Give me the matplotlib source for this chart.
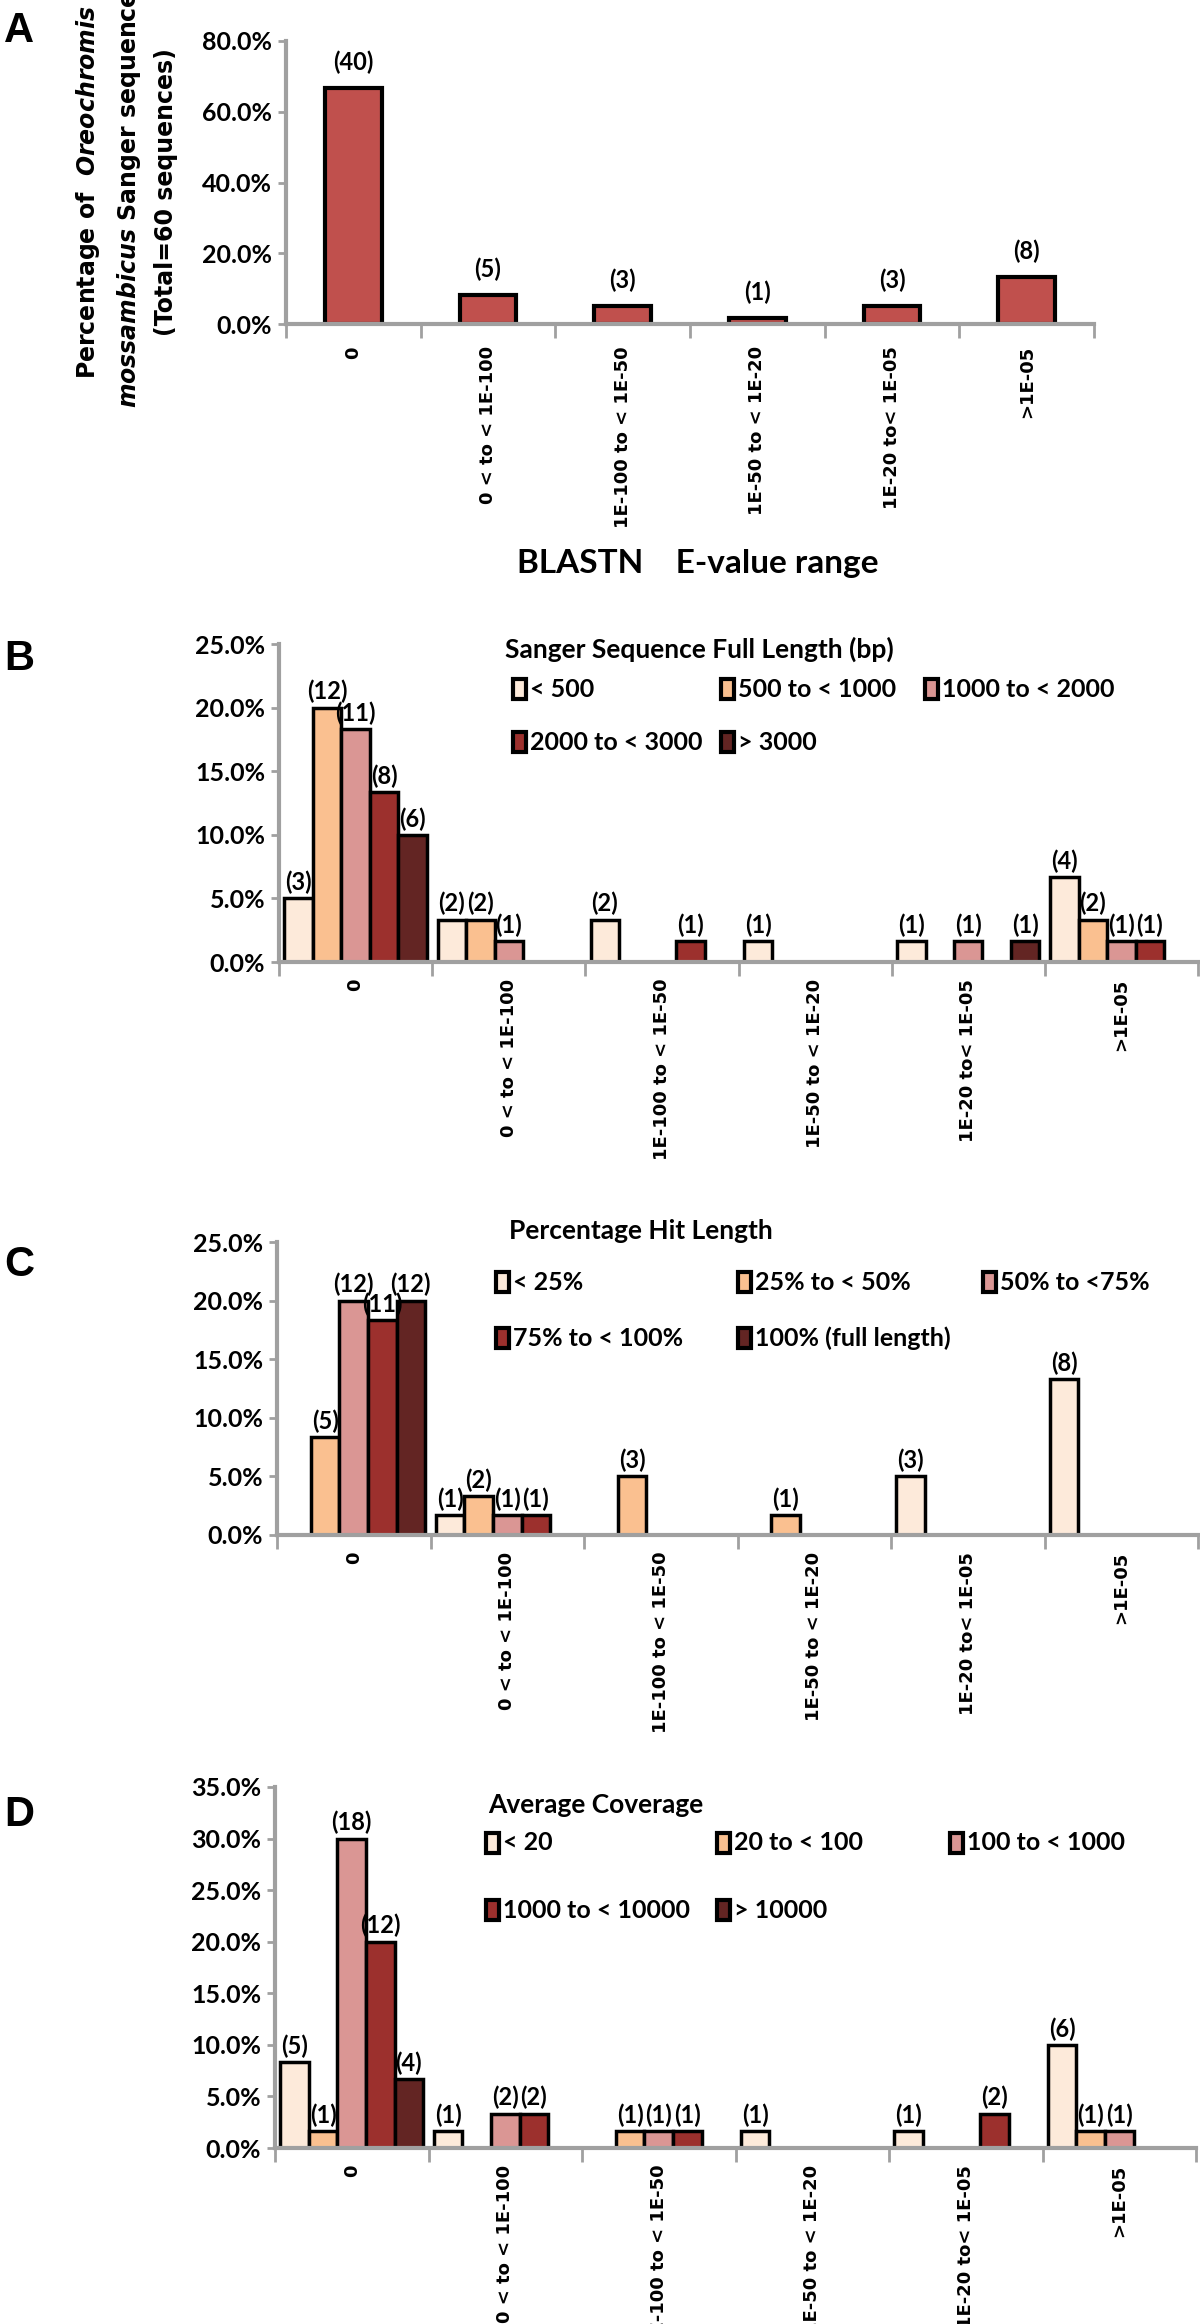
import matplotlib
matplotlib.use("Agg")
import matplotlib.pyplot as plt
import numpy as np
from matplotlib.patches import Rectangle
from matplotlib.ticker import PercentFormatter

plt.rcParams['mathtext.fontset'] = 'custom'
plt.rcParams['mathtext.it'] = 'DejaVu Sans:italic:bold'
plt.rcParams['mathtext.rm'] = 'DejaVu Sans:bold'

NARROW = ['Lato', 'DejaVu Sans']
GREY = '#A0A0A0'
W, H = 1200, 2324

total = 60
categories = ['0', '0 < to < 1E-100', '1E-100 to < 1E-50', '1E-50 to < 1E-20',
              '1E-20 to< 1E-05', '>1E-05']

# A: all sequences per e-value range
evalue_counts = [40, 5, 3, 1, 3, 8]

# B: sanger sequence full length
length_labels = ['< 500', '500 to < 1000', '1000 to < 2000', '2000 to < 3000', '> 3000']
length_counts = [
    [3, 2, 2, 1, 1, 4],
    [12, 2, 0, 0, 0, 2],
    [11, 1, 0, 0, 1, 1],
    [8, 0, 1, 0, 0, 1],
    [6, 0, 0, 0, 1, 0],
]

# C: percentage hit length
hit_labels = ['< 25%', '25% to < 50%', '50% to <75%', '75% to < 100%', '100% (full length)']
hit_counts = [
    [0, 1, 0, 0, 3, 8],
    [5, 2, 3, 1, 0, 0],
    [12, 1, 0, 0, 0, 0],
    [11, 1, 0, 0, 0, 0],
    [12, 0, 0, 0, 0, 0],
]

# D: average coverage
cov_labels = ['< 20', '20 to < 100', '100 to < 1000', '1000 to < 10000', '> 10000']
cov_counts = [
    [5, 1, 0, 1, 1, 6],
    [1, 0, 1, 0, 0, 1],
    [18, 2, 1, 0, 0, 1],
    [12, 2, 1, 0, 2, 0],
    [4, 0, 0, 0, 0, 0],
]

colors = ['#FDEADA', '#FAC090', '#DA9694', '#9C302D', '#632523']


def px_axes(fig, left, top, right, bottom):
    return fig.add_axes([left / W, 1 - bottom / H, (right - left) / W, (bottom - top) / H])


def style(ax, ymax, step, pad=12):
    ax.set_xlim(-0.5, 5.5)
    ax.set_ylim(0, ymax)
    ax.set_yticks(np.arange(0, ymax + 1e-9, step))
    ax.yaxis.set_major_formatter(PercentFormatter(1.0, decimals=1))
    for s in ['top', 'right']:
        ax.spines[s].set_visible(False)
    for s in ['left', 'bottom']:
        ax.spines[s].set_color(GREY)
        ax.spines[s].set_linewidth(3)
    ax.set_xticks(range(len(categories)))
    ax.set_xticklabels(categories, rotation=90, fontfamily='DejaVu Sans',
                       fontweight='bold', fontsize=13)
    ax.set_xticks(np.arange(-0.5, 6, 1), minor=True)
    ax.tick_params(axis='x', which='major', length=0, pad=pad)
    ax.tick_params(axis='x', which='minor', length=10, width=2, color=GREY)
    ax.tick_params(axis='y', length=6, width=2, color=GREY, pad=4)
    for lab in ax.get_yticklabels():
        lab.set_fontfamily(NARROW)
        lab.set_fontweight('bold')
        lab.set_fontsize(18)


def grouped(ax, counts):
    n = len(counts)
    w = 0.186
    x = np.arange(len(categories))
    for i, (row, c) in enumerate(zip(counts, colors)):
        row = np.array(row)
        idx = row > 0
        bars = ax.bar(x[idx] + (i - (n - 1) / 2) * w, row[idx] / total, w,
                      color=c, edgecolor='black', linewidth=2.5)
        ax.bar_label(bars, labels=['({})'.format(v) for v in row[idx]], padding=3,
                     fontsize=17, fontfamily=NARROW, fontweight='bold')


def legend(fig, title, labels, title_xy, col_x, row_y):
    fig.text(title_xy[0] / W, 1 - title_xy[1] / H, title, fontsize=19, fontweight='bold',
             family=NARROW, ha='left', va='center')
    for i, (lab, c) in enumerate(zip(labels, colors)):
        r, k = divmod(i, 3)
        x = col_x[k] / W
        y = 1 - row_y[r] / H
        fig.add_artist(Rectangle((x, y - 10 / H), 13 / W, 20 / H, transform=fig.transFigure,
                                 facecolor=c, edgecolor='black', linewidth=3))
        fig.text(x + 17 / W, y, lab, fontsize=18, fontweight='bold', family=NARROW,
                 ha='left', va='center')


fig = plt.figure(figsize=(12, 23.24), dpi=100)

# panel A
axA = px_axes(fig, 286, 41, 1094, 324)
bars = axA.bar(np.arange(len(categories)), np.array(evalue_counts) / total, 0.42,
               color='#C0504D', edgecolor='black', linewidth=3)
axA.bar_label(bars, labels=['({})'.format(v) for v in evalue_counts], padding=10,
              fontsize=17, fontfamily=NARROW, fontweight='bold')
style(axA, 0.8, 0.2, pad=16)
fig.text(126 / W, 1 - 192 / H,
         'Percentage of  $Oreochromis$\n$mossambicus$ Sanger sequences\n(Total=60 sequences)',
         rotation=90, fontsize=17, family='DejaVu Sans', fontweight='bold',
         ha='center', va='center', multialignment='center', linespacing=1.6)
fig.text(698 / W, 1 - 564 / H, 'BLASTN    E-value range', fontsize=24, fontweight='bold',
         family=NARROW, ha='center', va='center')

# panel B
axB = px_axes(fig, 279, 644, 1198, 962)
grouped(axB, length_counts)
style(axB, 0.25, 0.05)
legend(fig, 'Sanger Sequence Full Length (bp)', length_labels, (505, 649),
       (513, 721, 925), (689, 742))

# panel C
axC = px_axes(fig, 277, 1242, 1198, 1535)
grouped(axC, hit_counts)
style(axC, 0.25, 0.05)
legend(fig, 'Percentage Hit Length', hit_labels, (509, 1231),
       (496, 738, 983), (1282, 1338))

# panel D
axD = px_axes(fig, 275, 1787, 1196, 2148)
grouped(axD, cov_counts)
style(axD, 0.35, 0.05)
legend(fig, 'Average Coverage', cov_labels, (488, 1805),
       (486, 717, 950), (1843, 1910))

for letter, yy in zip('ABCD', [31, 659, 1265, 1815]):
    fig.text(19 / W, 1 - yy / H, letter, fontsize=30, fontweight='bold',
             family='Liberation Sans', ha='center', va='center')

fig.savefig('out.png', dpi=100)
